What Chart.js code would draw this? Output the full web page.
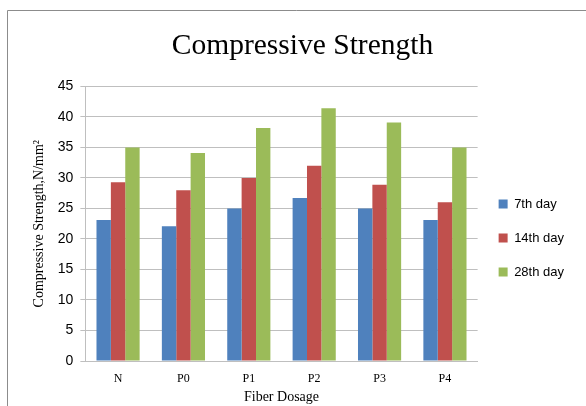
<!DOCTYPE html>
<html>
<head>
<meta charset="utf-8">
<script src="https://cdn.jsdelivr.net/npm/chart.js@4"></script>
<style>
    html, body { margin: 0; padding: 0; background: #fff; }
    #wrap { width: 586px; height: 406px; position: relative; }
</style>
</head>
<body>
<div id="wrap"><canvas id="strengthChart" width="586" height="406"></canvas></div>
<script>
const categories = ["N", "P0", "P1", "P2", "P3", "P4"];
const day7 = [23.1, 22.1, 25.0, 26.7, 25.0, 23.1];
const day14 = [29.3, 28.0, 30.0, 32.0, 28.9, 26.0];
const day28 = [35.0, 34.1, 38.2, 41.4, 39.1, 35.0];
const yTicks = [0, 5, 10, 15, 20, 25, 30, 35, 40, 45];

const SERIF = "'Liberation Serif', 'DejaVu Serif', serif";
const SANS = "'Liberation Sans', 'Open Sans', sans-serif";

// outer frame like the pasted Excel chart
const framePlugin = {
    id: "frame",
    beforeDraw(chart) {
        const ctx = chart.ctx;
        ctx.save();
        ctx.fillStyle = "#fff";
        ctx.fillRect(0, 0, chart.width, chart.height);
        ctx.strokeStyle = "#8c8c8c";
        ctx.lineWidth = 1;
        ctx.beginPath();
        ctx.moveTo(7.5, chart.height);
        ctx.lineTo(7.5, 10.5);
        ctx.lineTo(chart.width, 10.5);
        ctx.stroke();
        ctx.restore();
    },
};

const bar = (label, data, color) => ({
    label: label,
    data: data,
    backgroundColor: color,
    borderWidth: 0,
    categoryPercentage: 0.66,
    barPercentage: 1.0,
});

new Chart(document.getElementById("strengthChart"), {
    type: "bar",
    data: {
        labels: categories,
        datasets: [
            bar("7th day", day7, "#4F81BD"),
            bar("14th day", day14, "#C0504D"),
            bar("28th day", day28, "#9BBB59"),
        ],
    },
    options: {
        responsive: false,
        animation: false,
        layout: { padding: { left: 31, right: 12, top: 29, bottom: 0 } },
        plugins: {
            title: {
                display: true,
                text: "Compressive Strength",
                color: "#000",
                font: { family: SERIF, size: 29.5, weight: "normal" },
                padding: { top: 0, bottom: 22 },
            },
            legend: {
                position: "right",
                title: {
                    display: true,
                    text: " ",
                    font: { size: 1 },
                    padding: 20,
                },
                labels: {
                    color: "#000",
                    font: { family: SANS, size: 13 },
                    boxWidth: 9,
                    boxHeight: 9,
                    padding: 21,
                },
            },
            tooltip: { enabled: false },
        },
        scales: {
            x: {
                afterFit: (scale) => { scale.height = 45; },
                grid: { display: false, drawTicks: false },
                border: { color: "#bfbfbf" },
                ticks: { color: "#000", font: { family: SERIF, size: 12 }, padding: 11 },
                title: {
                    display: true,
                    text: "Fiber Dosage",
                    color: "#000",
                    font: { family: SERIF, size: 14 },
                    padding: { top: 0, bottom: 0 },
                },
            },
            y: {
                min: 0,
                max: 45,
                afterBuildTicks: (scale) => { scale.ticks = yTicks.map((v) => ({ value: v })); },
                grid: { color: "#bfbfbf", tickLength: 5 },
                border: { color: "#bfbfbf" },
                ticks: { color: "#000", font: { family: SANS, size: 14 }, padding: 7 },
                title: {
                    display: true,
                    text: "Compressive Strength,N/mm²",
                    color: "#000",
                    font: { family: SERIF, size: 14 },
                    padding: { top: 0, bottom: 3 },
                },
            },
        },
    },
    plugins: [framePlugin],
});
</script>
</body>
</html>
